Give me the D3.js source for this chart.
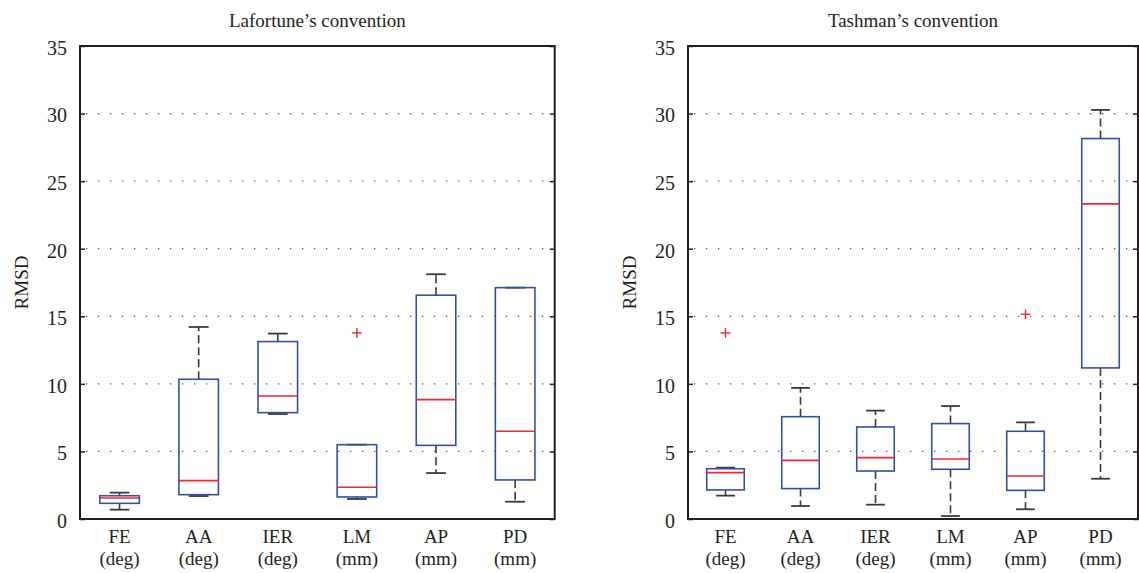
<!DOCTYPE html>
<meta charset="utf-8">
<head>
    <title>RMSD by convention</title>
    <script type="text/javascript" src="https://cdn.jsdelivr.net/npm/d3@7"></script>
    <style>
        body { margin: 0; background: #fff; }
        svg text { font-family: "Liberation Serif", "Times New Roman", Times, "DejaVu Serif", "Noto Serif", serif !important; fill: #231f20; }
    </style>
</head>
<body>
<div id="chart"></div>
<script>
    // categories and units (two-line tick labels)
    const categories = ["FE", "AA", "IER", "LM", "AP", "PD"];
    const units = ["(deg)", "(deg)", "(deg)", "(mm)", "(mm)", "(mm)"];
    const yTicks = [0, 5, 10, 15, 20, 25, 30, 35];

    // Lafortune's convention
    const lafWhiskerLow = [0.69, 1.70, 7.77, 1.48, 3.40, 1.28];
    const lafQ1 = [1.16, 1.80, 7.87, 1.63, 5.45, 2.89];
    const lafMedian = [1.55, 2.84, 9.10, 2.35, 8.83, 6.49];
    const lafQ3 = [1.72, 10.34, 13.13, 5.50, 16.56, 17.12];
    const lafWhiskerHigh = [1.95, 14.21, 13.72, 5.50, 18.11, 17.12];
    const lafOutliers = [[], [], [], [13.77], [], []];

    // Tashman's convention
    const tasWhiskerLow = [1.73, 0.96, 1.06, 0.22, 0.72, 2.98];
    const tasQ1 = [2.15, 2.25, 3.55, 3.68, 2.12, 11.18];
    const tasMedian = [3.43, 4.34, 4.54, 4.44, 3.18, 23.32];
    const tasQ3 = [3.72, 7.57, 6.81, 7.06, 6.49, 28.15];
    const tasWhiskerHigh = [3.80, 9.70, 8.02, 8.36, 7.15, 30.27];
    const tasOutliers = [[13.77], [], [], [], [15.15], []];

    const W = 1139, H = 573;
    const svg = d3.select("#chart").append("svg")
        .attr("width", W).attr("height", H);

    const axisColor = "#231f20";
    const boxColor = "#3350a8";
    const medColor = "#ee2a2f";
    const whiskColor = "#3a3a3a";

    function panel(title, left, right, lo, q1, med, q3, hi, outl) {
        const top = 46, bottom = 519;
        const y = d3.scaleLinear().domain([0, 35]).range([bottom, top]);
        const x = d3.scaleBand().domain(categories).range([left, right]).padding(0);
        const bw = x.bandwidth() * 0.5;
        const cx = c => x(c) + x.bandwidth() / 2;
        const g = svg.append("g");

        // dotted grid
        g.selectAll(".grid").data(yTicks.filter(t => t > 0 && t < 35)).enter()
            .append("line")
            .attr("x1", left + 6).attr("x2", right - 4)
            .attr("y1", d => y(d)).attr("y2", d => y(d))
            .attr("stroke", "#555").attr("stroke-width", 1.3)
            .attr("stroke-dasharray", "1.3,10.7");

        // whiskers (dashed) and caps
        categories.forEach((c, i) => {
            const xc = cx(c);
            if (hi[i] > q3[i]) g.append("line").attr("x1", xc).attr("x2", xc)
                .attr("y1", y(q3[i])).attr("y2", y(hi[i]))
                .attr("stroke", whiskColor).attr("stroke-width", 1.6).attr("stroke-dasharray", "8,4");
            if (lo[i] < q1[i]) g.append("line").attr("x1", xc).attr("x2", xc)
                .attr("y1", y(q1[i])).attr("y2", y(lo[i]))
                .attr("stroke", whiskColor).attr("stroke-width", 1.6).attr("stroke-dasharray", "8,4");
            [lo[i], hi[i]].forEach(v => {
                g.append("line").attr("x1", xc - bw / 4).attr("x2", xc + bw / 4)
                    .attr("y1", y(v)).attr("y2", y(v))
                    .attr("stroke", whiskColor).attr("stroke-width", 1.8);
            });
            g.append("rect").attr("x", xc - bw / 2).attr("width", bw)
                .attr("y", y(q3[i])).attr("height", y(q1[i]) - y(q3[i]))
                .attr("fill", "none").attr("stroke", boxColor).attr("stroke-width", 1.6);
            g.append("line").attr("x1", xc - bw / 2).attr("x2", xc + bw / 2)
                .attr("y1", y(med[i])).attr("y2", y(med[i]))
                .attr("stroke", medColor).attr("stroke-width", 1.6);
            outl[i].forEach(v => {
                g.append("line").attr("x1", xc - 5).attr("x2", xc + 5)
                    .attr("y1", y(v)).attr("y2", y(v)).attr("stroke", medColor).attr("stroke-width", 1.4);
                g.append("line").attr("x1", xc).attr("x2", xc)
                    .attr("y1", y(v) - 5).attr("y2", y(v) + 5).attr("stroke", medColor).attr("stroke-width", 1.4);
            });
        });

        // frame
        g.append("rect").attr("x", left).attr("y", top)
            .attr("width", right - left).attr("height", bottom - top)
            .attr("fill", "none").attr("stroke", axisColor).attr("stroke-width", 2);

        // inward ticks on left and right
        const yl = d3.axisLeft(y).tickValues(yTicks).tickSize(-5).tickPadding(13);
        const ga = g.append("g").attr("transform", `translate(${left},0)`).call(yl);
        ga.attr("font-family", null);
        ga.select(".domain").remove();
        ga.selectAll(".tick line").attr("stroke", axisColor).attr("stroke-width", 1.5);
        ga.selectAll(".tick text").attr("font-size", 20).attr("dy", "0.42em").attr("fill", axisColor);
        const yr = d3.axisRight(y).tickValues(yTicks).tickSize(-5).tickFormat("");
        const gr = g.append("g").attr("transform", `translate(${right},0)`).call(yr);
        gr.select(".domain").remove();
        gr.selectAll(".tick line").attr("stroke", axisColor).attr("stroke-width", 1.5);

        // category labels, two lines
        categories.forEach((c, i) => {
            g.append("text").attr("x", cx(c)).attr("y", 543)
                .attr("text-anchor", "middle").attr("font-size", 19).text(c);
            g.append("text").attr("x", cx(c)).attr("y", 565)
                .attr("text-anchor", "middle").attr("font-size", 19).text(units[i]);
        });

        // title and y label
        g.append("text").attr("x", (left + right) / 2).attr("y", 27)
            .attr("text-anchor", "middle").attr("font-size", 19).text(title);
        g.append("text").attr("transform", `translate(${left - 52},${(top + bottom) / 2}) rotate(-90)`)
            .attr("text-anchor", "middle").attr("font-size", 19).text("RMSD");
    }

    panel("Lafortune\u2019s convention", 80, 554.7,
        lafWhiskerLow, lafQ1, lafMedian, lafQ3, lafWhiskerHigh, lafOutliers);
    panel("Tashman\u2019s convention", 688, 1138,
        tasWhiskerLow, tasQ1, tasMedian, tasQ3, tasWhiskerHigh, tasOutliers);
</script>
</body>
</html>
